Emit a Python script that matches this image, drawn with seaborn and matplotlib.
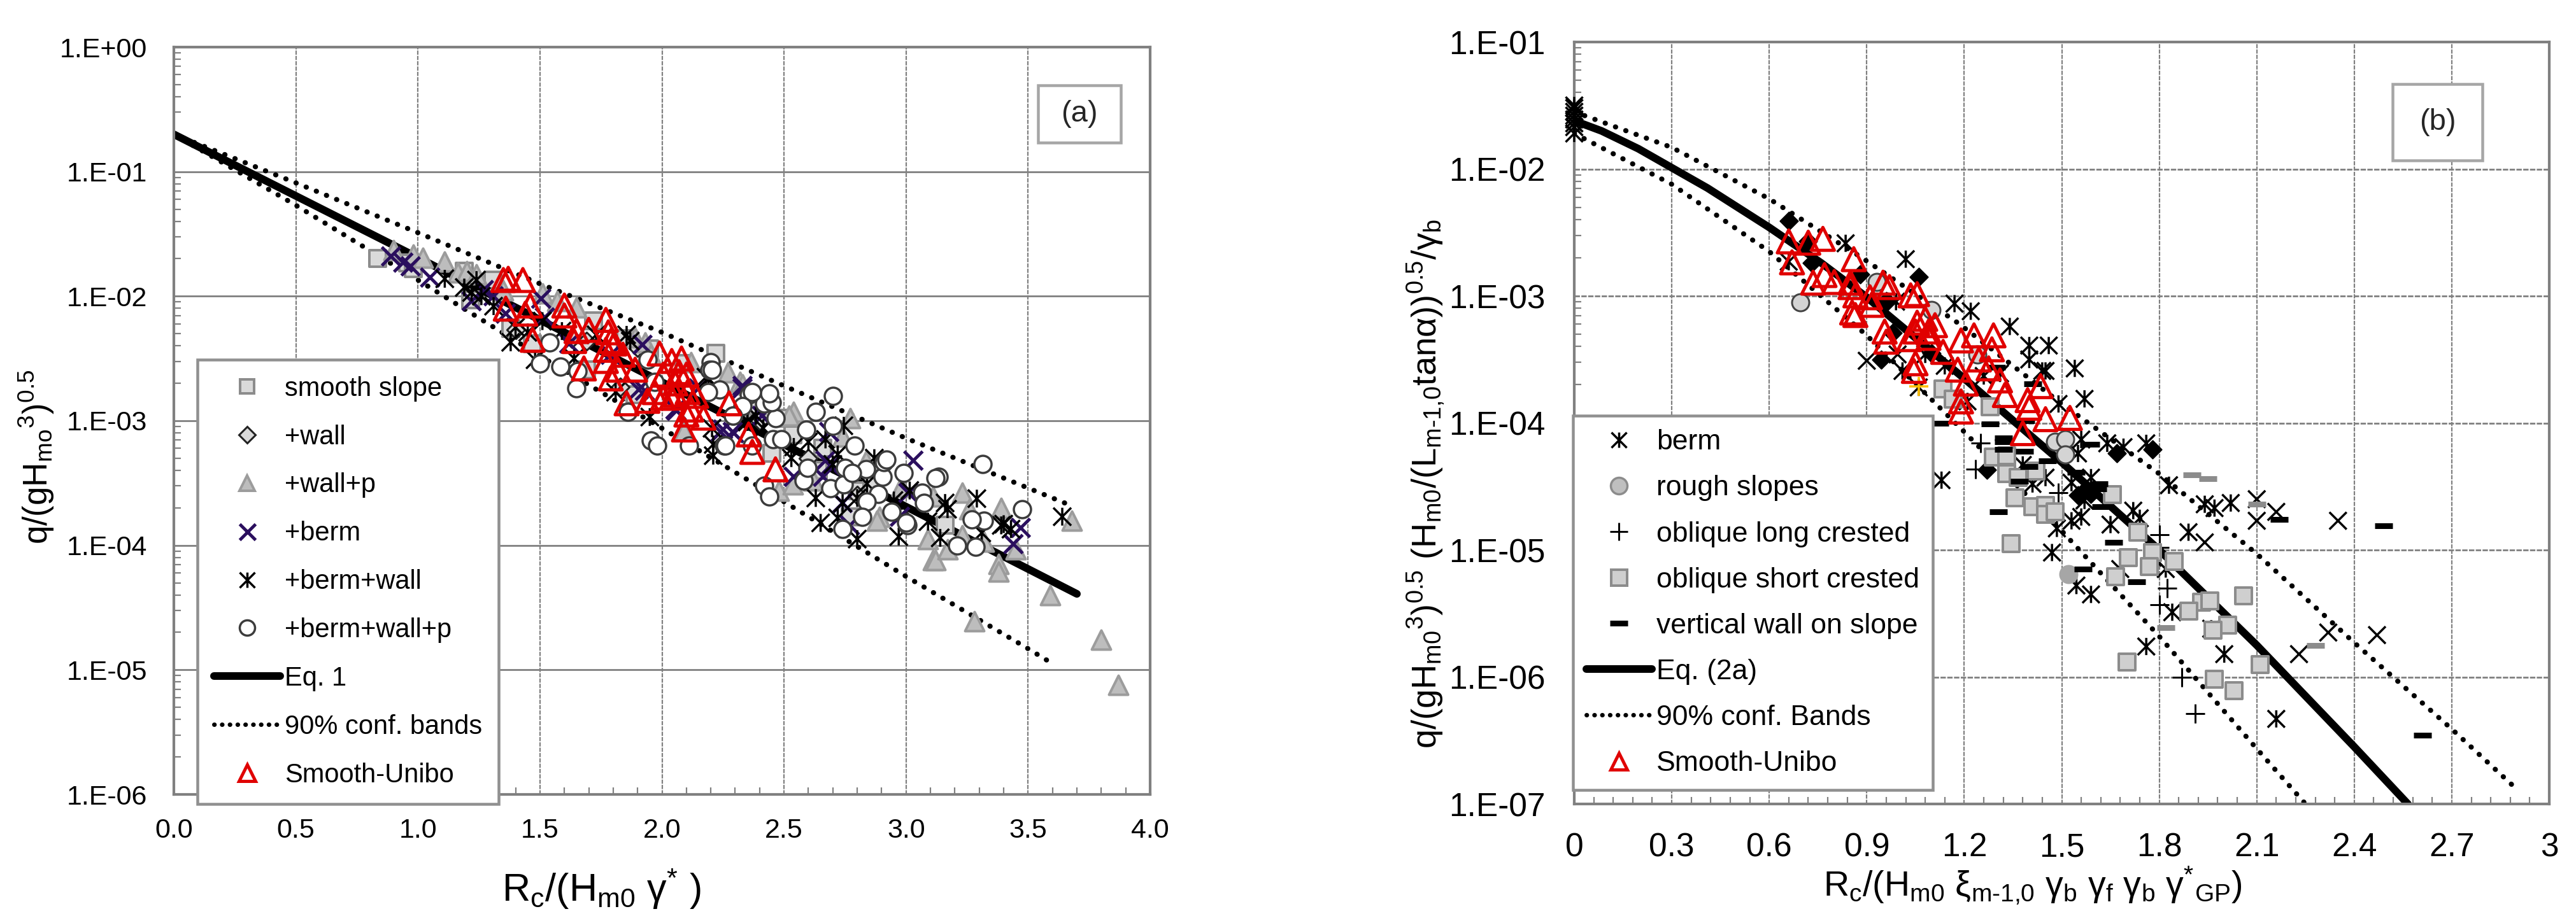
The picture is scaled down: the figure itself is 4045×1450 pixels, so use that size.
import numpy as np
import matplotlib
matplotlib.use("Agg")
import matplotlib.pyplot as plt
import seaborn as sns
from matplotlib.lines import Line2D
from matplotlib.patches import Rectangle
from matplotlib.path import Path
from matplotlib.ticker import FixedLocator, NullFormatter

# ---------- panel (a): x = Rc/(Hm0 gamma*), values as log10(q/(gHm0^3)^0.5) ----------
a_smooth_x = [.835,.957,.982,1.19,1.306,1.215,1.38,1.72,1.85,1.95,1.47,1.69,1.89,2.09,2.37,3.16,2.77,2.80,2.45,2.66,2.51,2.39,2.22,2.64,2.86,2.535]
a_smooth_l = [-1.695,-1.733,-1.779,-1.80,-1.87,-2.03,-2.26,-2.20,-2.34,-2.42,-2.38,-2.59,-2.79,-2.54,-2.91,-3.84,-3.77,-3.56,-3.26,-3.22,-2.98,-2.88,-2.46,-3.40,-3.52,-3.11]
a_wall_x = [1.83,1.90,1.40,1.63,1.69,2.4,2.6,2.8,3.0]
a_wall_l = [-2.73,-2.41,-2.27,-2.34,-2.36,-3.0,-3.3,-3.6,-3.8]
a_wallp_x = [.90,.98,1.02,1.11,1.165,1.20,1.24,1.35,1.51,1.57,1.65,1.89,1.93,2.12,2.27,2.32,1.955,3.68,3.59,3.80,3.87,3.28,3.38,3.38,3.11,3.12,3.17,3.09,3.23,3.26,3.39,3.45,3.32,3.23,2.98,2.89,2.88,2.54,2.77,2.835,2.62,2.48,2.33,2.09,2.52,2.535,2.74,3.11]
a_wallp_l = [-1.63,-1.665,-1.69,-1.72,-1.81,-1.80,-1.825,-1.95,-1.98,-2.04,-2.09,-2.33,-2.37,-2.53,-2.61,-2.69,-2.47,-3.80,-4.40,-4.76,-5.12,-4.61,-4.15,-4.21,-4.12,-4.12,-4.03,-3.95,-3.58,-3.71,-3.70,-4.03,-3.97,-3.92,-3.53,-3.77,-3.80,-2.93,-2.98,-3.32,-3.48,-3.56,-2.71,-3.08,-2.96,-3.51,-3.13,-3.61]
a_berm_x = [.89,.94,.97,1.05,1.22,1.27,1.31,1.36,1.52,1.62,1.92,1.79,1.905,2.055,2.25,2.29,2.33,1.505,3.03,3.47,3.44,2.975,3.01,2.77,2.74,2.67,2.66,2.54,2.685,2.41,2.24,2.295,2.33,2.15,2.06,1.93,2.69]
a_berm_l = [-1.68,-1.73,-1.76,-1.85,-2.04,-1.95,-2.00,-2.14,-2.17,-2.38,-2.39,-2.47,-2.75,-2.91,-3.07,-3.09,-2.72,-2.02,-3.32,-3.86,-3.99,-3.77,-3.58,-3.84,-3.66,-3.32,-3.45,-3.45,-3.09,-2.96,-3.09,-3.10,-2.74,-2.74,-2.92,-2.76,-3.36]
a_bw_x = [1.11,1.19,1.24,1.22,1.26,1.31,1.38,1.40,1.45,1.51,1.59,1.64,1.48,1.81,1.855,1.87,1.95,2.21,2.19,2.35,1.73,3.64,3.29,3.16,3.17,3.14,3.09,2.97,2.80,2.72,2.74,2.65,2.63,2.80,2.84,2.54,2.60,2.67,2.72,2.70,2.53,2.21,2.745,3.31,3.40,3.43,3.39,3.015,2.95,2.87,2.385,2.415,2.35,2.18,2.205]
a_bw_l = [-1.86,-1.93,-1.87,-1.97,-2.00,-2.08,-2.37,-2.25,-2.29,-2.20,-2.28,-2.50,-2.51,-2.77,-2.31,-2.36,-2.97,-3.19,-2.66,-3.00,-2.31,-3.77,-3.625,-3.66,-3.71,-3.94,-3.81,-3.93,-3.95,-3.78,-3.66,-3.82,-3.62,-3.62,-3.505,-3.21,-3.17,-3.15,-3.27,-3.35,-3.30,-3.28,-3.04,-3.90,-3.83,-3.87,-3.84,-3.56,-3.64,-3.30,-2.96,-3.06,-3.01,-2.65,-3.06]
a_bwp_x = [1.50,1.54,1.585,1.65,1.655,1.86,1.955,1.98,2.11,2.20,2.195,2.235,2.19,2.355,2.29,1.94,1.97,2.255,2.37,2.42,2.70,3.315,3.135,3.12,3.475,3.32,3.27,3.21,3.285,3.065,3.075,3.005,3.00,2.94,2.99,2.905,2.835,2.91,2.92,2.79,2.70,2.63,2.59,2.455,2.49,2.465,2.45,2.44,2.37,2.205,2.33,2.29,2.26,2.42,2.44,2.58,2.595,2.69,2.745,2.75,2.78,2.885,2.84,2.82,2.74]
a_bwp_l = [-2.54,-2.37,-2.565,-2.74,-2.60,-2.93,-3.16,-3.20,-3.20,-2.53,-2.59,-2.75,-2.77,-2.79,-2.96,-2.51,-2.69,-3.20,-3.20,-2.86,-2.80,-3.35,-3.45,-3.46,-3.71,-3.80,-3.79,-4.00,-4.01,-3.58,-3.66,-3.84,-3.82,-3.73,-3.42,-3.45,-3.39,-3.33,-3.31,-3.20,-3.04,-2.93,-3.07,-3.15,-3.15,-2.98,-2.85,-2.78,-2.77,-2.59,-2.88,-2.96,-3.20,-3.52,-3.61,-3.48,-3.38,-3.54,-3.51,-3.38,-3.42,-3.59,-3.65,-3.77,-3.87]
a_red_x = [1.35,1.37,1.43,1.36,1.46,1.44,1.60,1.60,1.77,1.70,1.65,1.64,1.47,1.68,1.78,1.79,1.77,1.805,1.84,1.77,1.89,1.82,1.79,1.855,1.99,2.04,2.08,2.005,1.97,2.055,2.10,2.105,2.005,2.04,2.14,2.17,2.10,2.09,2.275,2.355,2.37,1.94,2.07,2.055,2.12,2.465]
a_red_l = [-1.87,-1.86,-1.87,-2.10,-2.075,-2.14,-2.075,-2.155,-2.19,-2.27,-2.28,-2.36,-2.35,-2.58,-2.29,-2.36,-2.43,-2.38,-2.47,-2.52,-2.59,-2.59,-2.66,-2.86,-2.46,-2.52,-2.50,-2.63,-2.77,-2.70,-2.63,-2.77,-2.815,-2.815,-2.80,-2.975,-2.95,-3.07,-2.86,-3.11,-3.25,-2.84,-2.61,-2.79,-2.91,-3.39]
a_eq_x = [0,1,2,3,3.7]
a_eq_l = [-.70,-1.69,-2.69,-3.69,-4.39]
a_up_x = [0,.5,1,1.5,2,2.5,3,3.5,3.675]
a_up_l = [-.70,-1.09,-1.49,-1.90,-2.29,-2.72,-3.14,-3.54,-3.68]
a_lo_x = [0,.5,1,1.5,2,2.5,3,3.5,3.6]
a_lo_l = [-.70,-1.27,-1.87,-2.48,-3.06,-3.65,-4.25,-4.83,-4.95]

# ---------- panel (b) ----------
b_berm_x = [0,0,0,0,0,0,0,0,1.34,1.40,1.46,1.40,1.45,1.54,1.49,1.57,1.56,1.64,1.69,1.76,1.83,1.55,1.59,1.53,1.41,1.45,1.38,1.57,1.56,1.53,1.485,1.47,1.545,1.59,1.72,1.74,1.65,1.94,1.97,2.02,1.89,1.78,1.82,1.68,1.84,1.76,2.0,1.96,2.16,.835,1.02,1.17,1.22,1.01,1.06,.66,.99,1.08,1.14,1.44,1.21,1.31,1.26,1.13]
b_berm_l = [-1.50,-1.52,-1.55,-1.58,-1.61,-1.64,-1.67,-1.72,-3.24,-3.39,-3.39,-3.50,-3.59,-3.57,-3.85,-3.81,-4.13,-4.16,-4.19,-4.16,-4.49,-4.24,-4.43,-4.47,-4.48,-4.43,-4.33,-4.61,-4.74,-4.77,-4.83,-5.02,-5.28,-5.35,-4.69,-4.75,-4.80,-4.64,-4.67,-4.63,-4.86,-5.06,-5.15,-5.15,-5.49,-5.76,-5.82,-5.62,-6.33,-2.585,-2.71,-3.06,-3.12,-3.59,-3.72,-2.73,-3.045,-3.46,-3.55,-3.59,-3.83,-3.61,-3.63,-4.45]
b_x_x = [2.10,2.10,2.16,2.35,2.32,2.47,2.23,1.94,.90,.995]
b_x_l = [-4.60,-4.77,-4.70,-4.77,-5.65,-5.67,-5.82,-4.94,-3.51,-3.46]
b_diam_x = [.66,.72,.73,.88,.96,.98,.945,1.06,1.10,1.78,1.67,1.27,1.56,1.58,1.55,1.59]
b_diam_l = [-2.41,-2.57,-2.74,-2.83,-3.04,-3.29,-3.50,-2.85,-3.45,-4.21,-4.24,-4.37,-4.56,-4.53,-4.57,-4.56]
b_rough_x = [.695,.93,1.10,1.24,1.48,1.51,1.51]
b_rough_l = [-3.05,-2.89,-3.11,-3.46,-4.15,-4.13,-4.25]
b_rough2_x = [1.52]
b_rough2_l = [-5.19]
b_long_x = [1.25,1.235,1.49,1.80,1.80,1.825,1.80,1.87,1.91]
b_long_l = [-4.16,-4.365,-4.55,-4.88,-4.98,-5.30,-5.43,-6.00,-6.29]
b_long2_x = [1.06]
b_long2_l = [-3.71]
b_short_x = [1.28,1.29,1.33,1.33,1.365,1.42,1.355,1.41,1.45,1.45,1.48,1.345,1.655,1.735,1.705,1.78,1.77,1.845,1.665,1.93,1.955,1.89,2.06,2.01,1.965,2.11,1.70,1.97,2.03,1.135,1.165]
b_short_l = [-3.87,-4.27,-4.26,-4.40,-4.43,-4.38,-4.59,-4.66,-4.65,-4.72,-4.70,-4.95,-4.565,-4.86,-5.06,-5.02,-5.13,-5.09,-5.21,-5.41,-5.40,-5.48,-5.36,-5.59,-5.63,-5.90,-5.88,-6.02,-6.11,-3.73,-3.81]
b_vw_x = [1.28,1.32,1.32,1.385,1.455,1.40,1.37,1.305,1.59,1.545,1.615,1.61,1.62,1.66,1.565,1.73,2.17,2.49,2.61,1.41,1.39,1.30,1.125,1.32]
b_vw_l = [-4.01,-4.15,-4.21,-4.225,-4.30,-4.345,-4.46,-4.70,-4.17,-4.39,-4.48,-4.52,-4.66,-4.94,-5.15,-5.25,-4.76,-4.81,-6.46,-3.69,-3.98,-3.56,-4.00,-4.12]
b_vw2_x = [1.90,1.95,2.10,1.82,2.28]
b_vw2_l = [-4.41,-4.44,-4.64,-5.61,-5.75]
b_red_x = [.66,.72,.765,.86,.67,.735,.77,.80,.85,.85,.865,.855,.91,.915,.865,.95,.97,1.035,1.055,.955,.96,1.055,1.08,1.11,1.05,1.09,1.03,1.09,1.135,1.19,1.23,1.29,1.245,1.285,1.275,1.18,1.205,1.05,1.045,1.31,1.325,1.435,1.395,1.19,1.40,1.45,1.525,1.38,1.19]
b_red_l = [-2.57,-2.58,-2.55,-2.71,-2.735,-2.895,-2.835,-2.89,-2.895,-2.93,-2.995,-3.13,-3.01,-3.07,-3.15,-2.895,-2.93,-2.995,-2.985,-3.28,-3.36,-3.21,-3.18,-3.23,-3.28,-3.28,-3.34,-3.33,-3.44,-3.35,-3.31,-3.31,-3.50,-3.42,-3.57,-3.58,-3.69,-3.53,-3.59,-3.665,-3.78,-3.71,-3.82,-3.83,-3.88,-3.97,-3.96,-4.08,-3.91]
b_eq_x = [0,.084,.197,.30,.41,.60,.76,.90,1.20,1.50,1.80,2.10,2.40,2.565]
b_eq_l = [-1.62,-1.70,-1.84,-1.99,-2.15,-2.46,-2.74,-3.01,-3.65,-4.31,-5.00,-5.75,-6.55,-7.0]
b_up_x = [0,.30,.60,.88,1.185,1.50,1.80,2.10,2.40,2.70,2.89]
b_up_l = [-1.55,-1.83,-2.235,-2.69,-3.22,-3.85,-4.40,-5.03,-5.73,-6.41,-6.86]
b_lo_x = [0,.30,.60,.90,1.20,1.50,1.80,2.10,2.25]
b_lo_l = [-1.72,-2.12,-2.65,-3.31,-4.07,-4.85,-5.68,-6.565,-7.0]

a_labels = ["smooth slope","+wall","+wall+p","+berm","+berm+wall","+berm+wall+p","Eq. 1","90% conf. bands","Smooth-Unibo"]
b_labels = ["berm","rough slopes","oblique long crested","oblique short crested","vertical wall on slope","Eq. (2a)","90% conf. Bands","Smooth-Unibo"]
a_yticklabels = ["1.E+00","1.E-01","1.E-02","1.E-03","1.E-04","1.E-05","1.E-06"]
b_yticklabels = ["1.E-01","1.E-02","1.E-03","1.E-04","1.E-05","1.E-06","1.E-07"]
a_xticks = [0,.5,1,1.5,2,2.5,3,3.5,4]
a_xticklabels = ["0.0","0.5","1.0","1.5","2.0","2.5","3.0","3.5","4.0"]
b_xticks = [0,.3,.6,.9,1.2,1.5,1.8,2.1,2.4,2.7,3]
b_xticklabels = ["0","0.3","0.6","0.9","1.2","1.5","1.8","2.1","2.4","2.7","3"]

sns.set_theme(style="white")
plt.rcParams["font.family"] = ["Liberation Sans", "DejaVu Sans"]
plt.rcParams["mathtext.fontset"] = "custom"
plt.rcParams["mathtext.rm"] = "Liberation Sans"
plt.rcParams["mathtext.it"] = "Liberation Sans:italic"
plt.rcParams["mathtext.bf"] = "Liberation Sans:bold"
plt.rcParams["mathtext.default"] = "regular"

W, H, DPI = 4045, 1450, 100
PX = 72 / DPI
fig = plt.figure(figsize=(W / DPI, H / DPI), dpi=DPI, facecolor="white")

def make_axes(l, r, t, b):
    return fig.add_axes([l / W, 1 - b / H, (r - l) / W, (b - t) / H])

AX_GREY = "#808080"
NAVY = "#2B0F5E"
RED = "#E00000"
ASTER = Path([(-1, -1), (1, 1), (-1, 1), (1, -1), (0, -1), (0, 1)],
             [Path.MOVETO, Path.LINETO, Path.MOVETO, Path.LINETO, Path.MOVETO, Path.LINETO])
DOTS = (0, (0.05, 2.1))
DOTS_LEG = (0, (0.05, 1.7))

def pts(ax, xs, ls, marker, size_px, fc, ec, lw_px, z=3):
    sns.scatterplot(x=list(xs), y=10.0 ** np.array(ls, dtype=float), marker=marker, s=(size_px * PX) ** 2,
                    color=ec, ax=ax, clip_on=False, zorder=z, legend=False)
    c = ax.collections[-1]
    c.set_facecolor(fc)
    c.set_edgecolor(ec)
    c.set_linewidth(lw_px * PX)

def curve(ax, xs, ls, dotted=False):
    sns.lineplot(x=list(xs), y=10.0 ** np.array(ls, dtype=float), color="black", sort=False,
                 errorbar=None, ax=ax, zorder=2, linewidth=(8 if dotted else 12) * PX)
    ln = ax.lines[-1]
    if dotted:
        ln.set_linestyle(DOTS)
        ln.set_dash_capstyle("round")
    else:
        ln.set_solid_capstyle("round")

def style(ax, ymin, ymax, xmax, xticks, xlabels, ylabels, xminor, tick_fs, xpad, ypad, hstyle):
    ax.set_xscale("linear")
    ax.set_yscale("log")
    ax.set_xlim(0, xmax)
    ax.set_ylim(ymin, ymax)
    decs = [10.0 ** e for e in range(int(np.log10(ymax)), int(np.log10(ymin)) - 1, -1)]
    ax.yaxis.set_major_locator(FixedLocator(decs))
    ax.set_yticklabels(ylabels)
    ax.yaxis.set_minor_locator(FixedLocator([d * k for d in decs[1:] for k in range(2, 10)]))
    ax.yaxis.set_minor_formatter(NullFormatter())
    ax.set_xticks(xticks)
    ax.set_xticklabels(xlabels)
    ax.xaxis.set_minor_locator(FixedLocator(xminor))
    ax.tick_params(axis="x", which="major", length=0, labelsize=tick_fs, pad=xpad, labelcolor="black")
    ax.tick_params(axis="y", which="major", length=0, labelsize=tick_fs, pad=ypad, labelcolor="black")
    ax.tick_params(axis="both", which="minor", direction="in", length=11 * PX, width=2.2 * PX,
                   color=AX_GREY, left=True, bottom=True)
    for s in ax.spines.values():
        s.set_color(AX_GREY)
        s.set_linewidth(4.2 * PX)
        s.set_visible(True)
    ax.set_axisbelow(True)
    ax.grid(True, axis="x", which="major", color=AX_GREY, lw=2.2 * PX, linestyle=(0, (3, 0.8)))
    ax.grid(True, axis="y", which="major", color=AX_GREY, lw=2.8 * PX, linestyle=hstyle)

def tag(ax, text, l, r, t, b, fs):
    fig.add_artist(Rectangle((l / W, 1 - b / H), (r - l) / W, (b - t) / H, transform=fig.transFigure,
                             facecolor="white", edgecolor="#A6A6A6", linewidth=4.5 * PX, zorder=4))
    fig.text((l + r) / 2 / W, 1 - (t + b) / 2 / H, text, fontsize=fs, ha="center", va="center", zorder=5)

def mk(marker, size_px, fc, ec, lw_px):
    return Line2D([], [], linestyle="none", marker=marker, markersize=size_px * PX, markerfacecolor=fc,
                  markeredgecolor=ec, markeredgewidth=lw_px * PX)

def line_handle(dotted):
    h = Line2D([], [], color="black", linewidth=(7 if dotted else 12) * PX)
    if dotted:
        h.set_linestyle(DOTS_LEG)
        h.set_dash_capstyle("round")
    else:
        h.set_solid_capstyle("round")
    return h

def legend(ax, handles, labels, left_px, top_px, spacing, pad, fs, hlen):
    leg = ax.legend(handles, labels, loc="upper left", bbox_to_anchor=(left_px / W, 1 - top_px / H),
                    bbox_transform=fig.transFigure, borderaxespad=0, fontsize=fs, frameon=True, fancybox=False,
                    framealpha=1, facecolor="white", edgecolor="#909090", handlelength=hlen, handletextpad=0.17,
                    labelspacing=spacing, borderpad=pad, labelcolor="black")
    leg.get_frame().set_linewidth(4.5 * PX)
    leg.set_zorder(10)
    return leg

# ---------- panel (a) ----------
ax1 = make_axes(273, 1806, 74, 1248)
style(ax1, 1e-6, 1, 4, a_xticks, a_xticklabels, a_yticklabels, [i / 10 for i in range(1, 40)], 31, 27, 30, "-")
curve(ax1, a_eq_x, a_eq_l)
curve(ax1, a_up_x, a_up_l, True)
curve(ax1, a_lo_x, a_lo_l, True)
pts(ax1, a_smooth_x, a_smooth_l, "s", 27, "#DADADA", "#8C8C8C", 4, 3)
pts(ax1, a_wall_x, a_wall_l, "D", 20, "#DADADA", "#222222", 3, 3.1)
pts(ax1, a_wallp_x, a_wallp_l, "^", 30, "#BDBDBD", "#9C9C9C", 4, 3.2)
pts(ax1, a_berm_x, a_berm_l, "x", 29, "none", NAVY, 5, 3.3)
pts(ax1, a_bw_x, a_bw_l, ASTER, 28, "none", "black", 3.5, 3.4)
pts(ax1, a_bwp_x, a_bwp_l, "o", 27, "white", "#3C3C3C", 3.5, 3.5)
pts(ax1, a_red_x, a_red_l, "^", 36, "none", RED, 5, 3.6)
h_a = [mk("s", 22, "#DADADA", "#8C8C8C", 4), mk("D", 18, "#DADADA", "#222222", 3), mk("^", 24, "#BDBDBD", "#9C9C9C", 4),
       mk("x", 25, "none", NAVY, 5), mk(ASTER, 24, "none", "black", 3.5), mk("o", 24, "white", "#3C3C3C", 3.5),
       line_handle(False), line_handle(True), mk("^", 26, "none", RED, 5)]
legend(ax1, h_a, a_labels, 310, 565, 0.86, 0.62, 30, 2.5)
ax1.set_xlabel(r"R$_{c}$/(H$_{m0}$ γ$^{*}$ )", fontsize=44, color="black")
ax1.xaxis.label.set_va("baseline")
ax1.xaxis.set_label_coords(0.438, -0.143)
ax1.set_ylabel(r"q/(gH$_{mo}$$^{3}$)$^{0.5}$", fontsize=38, color="black")
ax1.yaxis.label.set_va("baseline")
ax1.yaxis.set_label_coords(-0.129, 0.452)
tag(ax1, "(a)", 1630, 1760, 134, 224, 34)

# ---------- panel (b) ----------
ax2 = make_axes(2472, 4003, 66, 1263)
style(ax2, 1e-7, 1e-1, 3, b_xticks, b_xticklabels, b_yticklabels, [i * .06 for i in range(1, 50)], 37, 32, 33, (0, (3, 0.8)))
curve(ax2, b_eq_x, b_eq_l)
curve(ax2, b_up_x, b_up_l, True)
curve(ax2, b_lo_x, b_lo_l, True)
pts(ax2, b_berm_x, b_berm_l, ASTER, 27, "none", "black", 3.5, 3)
pts(ax2, b_x_x, b_x_l, "x", 27, "none", "black", 3.5, 3)
pts(ax2, b_diam_x, b_diam_l, "D", 20, "black", "black", 2, 3.1)
pts(ax2, b_rough_x, b_rough_l, "o", 27, "#D4D4D4", "#444444", 3, 3.2)
pts(ax2, b_rough2_x, b_rough2_l, "o", 27, "#A6A6A6", "#A6A6A6", 3, 3.2)
pts(ax2, b_long_x, b_long_l, "+", 30, "none", "black", 3, 3.3)
pts(ax2, b_long2_x, b_long2_l, "+", 30, "none", "#FFC000", 3.5, 3.3)
pts(ax2, b_short_x, b_short_l, "s", 27, "#CFCFCF", "#8C8C8C", 4, 3.4)
pts(ax2, b_vw_x, b_vw_l, "_", 28, "none", "black", 9, 3.5)
pts(ax2, b_vw2_x, b_vw2_l, "_", 28, "none", "#8C8C8C", 9, 3.5)
pts(ax2, b_red_x, b_red_l, "^", 36, "none", RED, 5, 3.6)
h_b = [mk(ASTER, 24, "none", "black", 3.5), mk("o", 26, "#BFBFBF", "#8C8C8C", 3.5), mk("+", 28, "none", "black", 3),
       mk("s", 25, "#CFCFCF", "#8C8C8C", 4), mk("_", 28, "none", "black", 9), line_handle(False), line_handle(True),
       mk("^", 27, "none", RED, 5)]
legend(ax2, h_b, b_labels, 2470, 653, 0.70, 0.48, 32, 2.3)
ax2.set_xlabel(r"R$_{c}$/(H$_{m0}$ ξ$_{m\text{-}1{,}0}$ γ$_{b}$ γ$_{f}$ γ$_{b}$ γ$^{*}$$_{GP}$)", fontsize=40, color="black")
ax2.xaxis.label.set_va("baseline")
ax2.xaxis.set_label_coords((3192 - 2472) / 1531, -(1408 - 1263) / 1197)
ax2.set_ylabel(r"q/(gH$_{m0}$$^{3}$)$^{0.5}$ (H$_{m0}$/(L$_{m\text{-}1{,}0}$tanα))$^{0.5}$/γ$_{b}$", fontsize=39, color="black")
ax2.yaxis.label.set_va("baseline")
ax2.yaxis.set_label_coords(-0.141, 0.42)
tag(ax2, "(b)", 3757, 3898, 132, 252, 34)

fig.savefig("out.png", dpi=DPI, facecolor="white")
